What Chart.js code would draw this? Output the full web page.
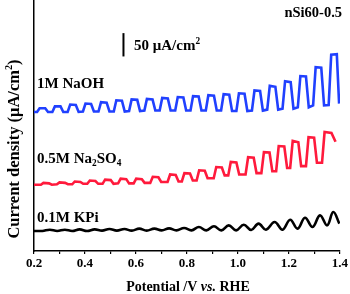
<!DOCTYPE html>
<html>
<head>
<meta charset="utf-8">
<script src="https://cdn.jsdelivr.net/npm/chart.js@4"></script>
<style>
  body { margin: 0; background: #fff; }
  canvas { display: block; }
</style>
</head>
<body>
<canvas id="chart" width="350" height="294"></canvas>
<script>
// Chopped-light LSV curves (curves are offset, units uA/cm2)
const potNaOH = [0.200,
  0.212, 0.222, 0.244, 0.255, 0.272, 0.282, 0.304, 0.315,
  0.332, 0.342, 0.364, 0.375, 0.392, 0.402, 0.424, 0.435,
  0.453, 0.463, 0.485, 0.496, 0.513, 0.523, 0.545, 0.556,
  0.573, 0.583, 0.605, 0.616, 0.633, 0.643, 0.665, 0.676,
  0.693, 0.703, 0.725, 0.736, 0.754, 0.764, 0.786, 0.797,
  0.814, 0.824, 0.846, 0.857, 0.874, 0.884, 0.906, 0.917,
  0.934, 0.944, 0.966, 0.977, 0.994, 1.004, 1.026, 1.037,
  1.055, 1.065, 1.087, 1.098, 1.115, 1.125, 1.147, 1.158,
  1.175, 1.185, 1.207, 1.218, 1.235, 1.245, 1.267, 1.278,
  1.295, 1.305, 1.327, 1.338, 1.356, 1.366, 1.388, 1.397];
const curNaOH = [298,
  298, 306, 306, 298, 298, 310, 310, 298,
  298, 314, 313, 298, 299, 316, 315, 299,
  299, 319, 318, 299, 299, 323, 322, 299,
  300, 325, 324, 300, 301, 326, 325, 301,
  301, 328, 327, 301, 301, 330, 329, 301,
  301, 332, 331, 301, 301, 334, 333, 301,
  301, 336, 335, 300, 300, 338, 337, 300,
  301, 344, 343, 301, 303, 354, 352, 303,
  305, 364, 362, 305, 308, 375, 374, 308,
  312, 394, 393, 312, 313, 421, 422, 316];

const potNa2SO4 = [0.200,
  0.227, 0.237, 0.259, 0.270, 0.290, 0.300, 0.322, 0.333,
  0.350, 0.360, 0.382, 0.393, 0.409, 0.419, 0.441, 0.452,
  0.469, 0.479, 0.501, 0.512, 0.530, 0.540, 0.562, 0.573,
  0.591, 0.601, 0.623, 0.634, 0.656, 0.666, 0.688, 0.699,
  0.724, 0.734, 0.756, 0.767, 0.780, 0.790, 0.812, 0.823,
  0.838, 0.848, 0.870, 0.881, 0.905, 0.915, 0.937, 0.948,
  0.962, 0.972, 0.994, 1.005, 1.030, 1.040, 1.062, 1.073,
  1.092, 1.102, 1.124, 1.135, 1.150, 1.160, 1.182, 1.193,
  1.205, 1.215, 1.237, 1.248, 1.267, 1.277, 1.299, 1.310,
  1.330, 1.340, 1.367, 1.383];
const curNa2SO4 = [142,
  142, 146, 145, 142, 143, 147, 146, 143,
  143, 149, 148, 144, 144, 151, 150, 144,
  144, 153, 152, 144, 145, 155, 154, 145,
  145, 155, 154, 146, 146, 159, 158, 148,
  148, 164, 163, 149, 149, 167, 166, 151,
  151, 173, 172, 156, 156, 180, 179, 162,
  162, 191, 190, 164, 164, 201, 200, 167,
  167, 212, 211, 171, 171, 225, 224, 178,
  178, 236, 233, 182, 182, 244, 243, 189,
  189, 255, 253, 234];

const potKPi = [0.200, 0.233,
  0.262, 0.291, 0.321, 0.350, 0.379, 0.408, 0.438, 0.467,
  0.496, 0.525, 0.555, 0.584, 0.613, 0.642, 0.672, 0.701,
  0.730, 0.759, 0.789, 0.818, 0.847, 0.876, 0.906, 0.935,
  0.964, 0.993, 1.023, 1.052, 1.081, 1.110, 1.144, 1.175,
  1.205, 1.234, 1.263, 1.293, 1.322, 1.350, 1.374, 1.398];
const curKPi = [43, 43,
  45.7, 42.9, 45.7, 42.9, 46.4, 42.9, 46.4, 43.6,
  47.1, 43.6, 47.1, 43.6, 47.9, 43.6, 47.9, 44.3,
  48.6, 44.3, 49.3, 44.3, 51.4, 44.3, 52.9, 44.3,
  55, 44.3, 56.4, 45, 58.6, 45.7, 62.1, 45.7,
  67.1, 47.9, 71.4, 51.4, 76.4, 55, 83.6, 58.6];

// 50 uA/cm2 scale bar
const barPot = [0.551, 0.551];
const barCur = [417, 467];

const xTickValues = [0.2, 0.4, 0.6, 0.8, 1.0, 1.2, 1.4];
const xTickLabels = ["0.2", "0.4", "0.6", "0.8", "1.0", "1.2", "1.4"];

const SERIF = '"Liberation Serif", "Times New Roman", serif';

function toPoints(xs, ys) {
  return xs.map((x, i) => ({ x: x, y: ys[i] }));
}

// draw a run of text pieces (sub/sup/italic) starting at x, baseline y
function drawRich(ctx, x, y, parts, size, align) {
  const fontFor = (p) => {
    const s = p.sub || p.sup ? size * 0.62 : size;
    return (p.italic ? "italic " : "") + "bold " + s + "px " + SERIF;
  };
  let total = 0;
  parts.forEach(p => { ctx.font = fontFor(p); total += ctx.measureText(p.t).width; });
  let cx = x;
  if (align === "center") cx = x - total / 2;
  if (align === "right") cx = x - total;
  ctx.textAlign = "left";
  ctx.textBaseline = "alphabetic";
  parts.forEach(p => {
    ctx.font = fontFor(p);
    let dy = 0;
    if (p.sub) dy = size * 0.22;
    if (p.sup) dy = -size * 0.42;
    ctx.fillText(p.t, cx, y + dy);
    cx += ctx.measureText(p.t).width;
  });
}

const labelsPlugin = {
  id: "labels",
  afterDraw(chart) {
    const ctx = chart.ctx;
    ctx.save();
    ctx.fillStyle = "#000";
    drawRich(ctx, 342, 17, [{ t: "nSi60-0.5" }], 14.5, "right");
    drawRich(ctx, 134, 50, [{ t: "50 μA/cm" }, { t: "2", sup: true }], 15, "left");
    drawRich(ctx, 37, 88, [{ t: "1M NaOH" }], 15, "left");
    drawRich(ctx, 37, 163, [{ t: "0.5M Na" }, { t: "2", sub: true }, { t: "SO" }, { t: "4", sub: true }], 15, "left");
    drawRich(ctx, 37, 222, [{ t: "0.1M KPi" }], 15, "left");
    drawRich(ctx, 188, 291, [{ t: "Potential /V " }, { t: "vs.", italic: true }, { t: " RHE" }], 14, "center");
    ctx.translate(19, 149);
    ctx.rotate(-Math.PI / 2);
    drawRich(ctx, 0, 0, [{ t: "Current density (μA/cm" }, { t: "2", sup: true }, { t: ")" }], 16.5, "center");
    ctx.restore();
  }
};

new Chart(document.getElementById("chart"), {
  type: "line",
  data: {
    datasets: [
      { data: toPoints(potNaOH, curNaOH), borderColor: "#2040ff", borderWidth: 2.6, tension: 0 },
      { data: toPoints(potNa2SO4, curNa2SO4), borderColor: "#ff1a3c", borderWidth: 2.6, tension: 0 },
      { data: toPoints(potKPi, curKPi), borderColor: "#000000", borderWidth: 2.6, tension: 0.4 },
      { data: toPoints(barPot, barCur), borderColor: "#000000", borderWidth: 2, tension: 0 }
    ]
  },
  options: {
    responsive: false,
    animation: false,
    devicePixelRatio: 1,
    layout: { padding: { top: 0, right: 8, left: 0, bottom: 0 } },
    elements: { point: { radius: 0 }, line: { borderCapStyle: "butt", borderJoinStyle: "miter" } },
    plugins: { legend: { display: false }, tooltip: { enabled: false } },
    scales: {
      x: {
        type: "linear",
        min: 0.2,
        max: 1.4,
        afterFit: (s) => { s.height = 43; },
        border: { display: true, color: "#000", width: 1.5 },
        grid: { display: true, drawOnChartArea: false, drawTicks: true, tickLength: 3, color: "#000", lineWidth: 1.2 },
        ticks: {
          stepSize: 0.1,
          autoSkip: false,
          maxRotation: 0,
          padding: 2,
          color: "#000",
          font: { family: SERIF, size: 13, weight: "bold" },
          callback: (value) => {
            const i = xTickValues.findIndex(t => Math.abs(t - value) < 1e-6);
            return i >= 0 ? xTickLabels[i] : "";
          }
        }
      },
      y: {
        type: "linear",
        min: 0,
        max: 538,
        afterFit: (s) => { s.width = 34; },
        border: { display: true, color: "#000", width: 1.5 },
        grid: { display: false },
        ticks: { display: false }
      }
    }
  },
  plugins: [labelsPlugin]
});
</script>
</body>
</html>
